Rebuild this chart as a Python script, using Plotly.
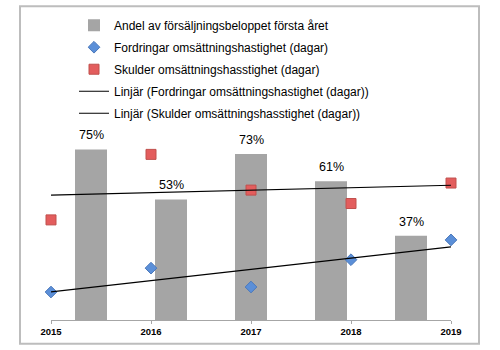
import numpy as np
import plotly.graph_objects as go

years = [2015, 2016, 2017, 2018, 2019]
andel = [0.75, 0.53, 0.73, 0.61, 0.37]
fordringar_dagar = [12.3, 22.8, 14.5, 26.5, 35.2]
skulder_dagar = [44.0, 72.8, 57.1, 51.2, 60.2]
names = [
    "Andel av försäljningsbeloppet första året",
    "Fordringar omsättningshastighet (dagar)",
    "Skulder omsättningshasstighet (dagar)",
    "Linjär (Fordringar omsättningshastighet (dagar))",
    "Linjär (Skulder omsättningshasstighet (dagar))",
]

cats = [str(y) for y in years]
font_main = "Liberation Sans"

fig = go.Figure()
fig.add_trace(go.Bar(
    x=cats, y=andel, name=names[0], marker=dict(color="#a5a5a5", line=dict(width=0)),
    width=0.4, xaxis="x", yaxis="y", legendgroup="a",
))
fig.add_trace(go.Scatter(
    x=years, y=fordringar_dagar, mode="markers", name=names[1],
    marker=dict(symbol="diamond", size=9, color="#5b8fd8", line=dict(color="#4a78bb", width=1)),
    xaxis="x2", yaxis="y2", cliponaxis=False, legendgroup="b",
))
fig.add_trace(go.Scatter(
    x=years, y=skulder_dagar, mode="markers", name=names[2],
    marker=dict(symbol="square", size=10, color="#e35d5d", line=dict(color="#c0504d", width=1)),
    xaxis="x2", yaxis="y2", cliponaxis=False, legendgroup="c",
))

xs = np.array(years, dtype=float)
for vals, nm, g in [(fordringar_dagar, names[3], "d"), (skulder_dagar, names[4], "e")]:
    k, m = np.polyfit(xs, np.array(vals), 1)
    xe = [years[0], years[-1]]
    fig.add_trace(go.Scatter(
        x=xe, y=[k * x + m for x in xe], mode="lines", name=nm,
        line=dict(color="#000000", width=1.2), xaxis="x2", yaxis="y2",
        cliponaxis=False, legendgroup=g,
    ))

# category index positions for labels above bars
for i, v in enumerate(andel):
    fig.add_annotation(x=i, y=v, xref="x", yref="y", text=f"{round(v*100)}%",
                       showarrow=False, yanchor="bottom", yshift=5,
                       font=dict(family=font_main, size=12.5, color="#000"))

hidden = dict(showticklabels=False, showline=False, showgrid=False, zeroline=False, ticks="")
fig.update_layout(
    width=500, height=350,
    margin=dict(l=51, r=49, t=137, b=30),
    paper_bgcolor="white", plot_bgcolor="white",
    showlegend=True,
    legend=dict(x=0.0575, y=1.69, xanchor="left", yanchor="top",
                font=dict(family=font_main, size=12, color="#000"),
                traceorder="grouped", tracegroupgap=3, bgcolor="rgba(0,0,0,0)"),
    xaxis=dict(type="category", range=[-0.5, 4.5], **hidden),
    yaxis=dict(range=[0, 0.8], **hidden),
    xaxis2=dict(overlaying="x", anchor="y2", range=[2015, 2019], tickvals=years,
                ticktext=cats, showline=True, linecolor="#a6a6a6", linewidth=1,
                ticks="outside", ticklen=3, tickcolor="#a6a6a6", showgrid=False,
                zeroline=False, tickfont=dict(family=font_main, size=9.5, color="#000", weight="bold")),
    yaxis2=dict(overlaying="y", range=[0, 80], **hidden),
    bargap=0.6,
)
fig.add_shape(type="rect", xref="paper", yref="paper",
              x0=(20 - 51) / 400, x1=(479 - 51) / 400,
              y0=(320 - 344) / 183, y1=(320 - 4.5) / 183,
              line=dict(color="#bdbdbd", width=2), fillcolor="rgba(0,0,0,0)", layer="below")

fig.write_html("out.html")
